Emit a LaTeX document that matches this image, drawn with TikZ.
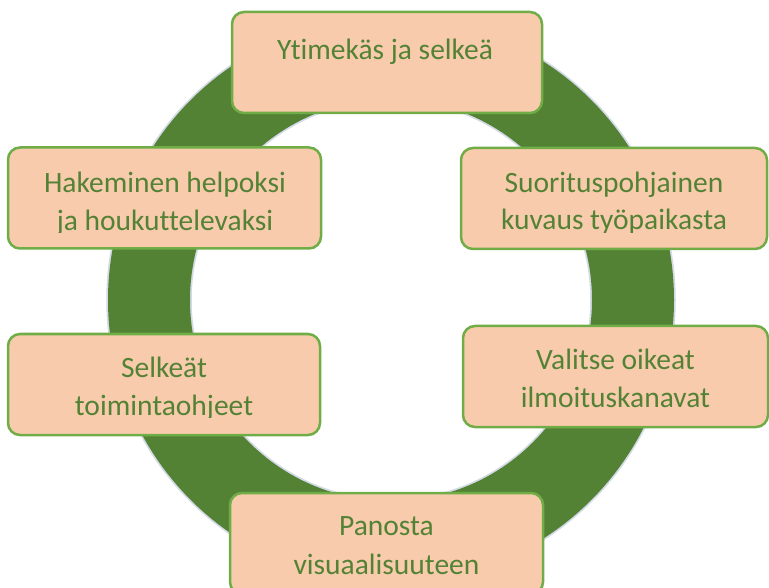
\documentclass[tikz,border=0pt]{standalone}
\usepackage{fontspec}
\setmainfont{Carlito}[Ligatures={NoCommon}]
\definecolor{ringgreen}{HTML}{548235}
\definecolor{ringedge}{HTML}{D3DAE6}
\definecolor{boxfill}{HTML}{F8CBAD}
\definecolor{boxline}{HTML}{70AD47}
\definecolor{textgreen}{HTML}{548235}
\tikzset{
  stepbox/.style={draw=boxline, fill=boxfill, line width=2.5pt,
    rounded corners=12pt, inner sep=0pt, minimum width=310pt,
    minimum height=101pt},
  lbl/.style={anchor=base, inner sep=0pt, text=textgreen,
    font=\fontsize{29.5}{38}\selectfont},
}
\begin{document}
\begin{tikzpicture}[x=1pt,y=-1pt]
\useasboundingbox (0,0) rectangle (769,588);
\clip (0,0) rectangle (769,588);

% green ring with a faint bluish rim
\draw[ringedge, line width=3.5pt] (391,300) circle (283pt) (391,300) circle (201pt);
\fill[ringgreen, even odd rule] (391,300) circle (283pt) (391,300) circle (201pt);

% boxes
\node[stepbox] (top) at (387,62.5) {};
\node[stepbox, minimum width=313pt] (hak) at (164.5,198) {};
\node[stepbox, minimum width=306pt] (suo) at (614,198.5) {};
\node[stepbox, minimum width=312pt] (sel) at (164,384.5) {};
\node[stepbox, minimum width=305pt] (val) at (615.5,376.5) {};
\node[stepbox, minimum width=313pt] (pan) at (386.5,543.5) {};

% labels (overflowing text is cut off at the lower text margin)
\node[lbl] (topA) at (385,60) {Ytimekäs ja selkeä};

\begin{scope}
  \clip (0,140) rectangle (769,233);
  \node[lbl] (hakA) at (165,193) {Hakeminen helpoksi};
  \node[lbl] (hakB) at (165,231) {ja houkuttelevaksi};
  \node[lbl] (suoA) at (614,193) {Suorituspohjainen};
  \node[lbl] (suoB) at (614,230) {kuvaus työpaikasta};
\end{scope}

\begin{scope}
  \clip (0,330) rectangle (330,417);
  \node[lbl] (selA) at (164,377) {Selkeät};
  \node[lbl] (selB) at (164,415) {toimintaohjeet};
\end{scope}

\node[lbl] (valA) at (615.5,370) {Valitse oikeat};
\node[lbl] (valB) at (615.5,407) {ilmoituskanavat};

\node[lbl] (panA) at (386.5,535) {Panosta};
\node[lbl] (panB) at (386.5,574) {visuaalisuuteen};
\end{tikzpicture}
\end{document}
